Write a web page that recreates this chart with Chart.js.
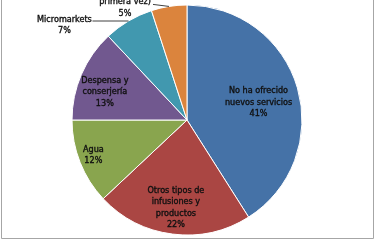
<!DOCTYPE html>
<html>
<head>
<meta charset="utf-8">
<script src="https://cdn.jsdelivr.net/npm/chart.js@4"></script>
<style>
  html, body { margin: 0; padding: 0; background: #ffffff; }
  #wrap { position: relative; width: 375px; height: 240px; }
  canvas { display: block; }
</style>
</head>
<body>
<div id="wrap"><canvas id="c" width="375" height="240"></canvas></div>
<script>
// ---- data ----
const categories = [
  "No ha ofrecido nuevos servicios",
  "Otros tipos de infusiones y productos",
  "Agua",
  "Despensa y conserjería",
  "Micromarkets",
  "primera vez)"
];
const labelLines = [
  ["No ha ofrecido", "nuevos servicios"],
  ["Otros tipos de", "infusiones y", "productos"],
  ["Agua"],
  ["Despensa y", "conserjería"],
  ["Micromarkets"],
  ["primera vez)"]
];
const values = [41, 22, 12, 13, 7, 5];
const colors = ["#4572A7", "#AA4643", "#89A54E", "#71588F", "#4198AF", "#DB843D"];

// ---- label layout (relative to each arc) ----
const labelLayout = [
  { mode: "in", r: 0.64, dAng: 2.5 },
  { mode: "in", r: 0.77, dAng: 0 },
  { mode: "in", r: 0.87, dAng: 1 },
  { mode: "in", r: 0.755, dAng: -4.5 },
  { mode: "out", lineDx: -36, lineDy: 0, textDx: -28, textDy: -1.5 },
  { mode: "out", lineDx: -16, lineDy: -2, textDx: -28, textDy: -2.5 }
];

const FONT = "9px 'Liberation Sans Narrow', 'DejaVu Sans Condensed', sans-serif";
const LINE_H = 11.5;

const labelPlugin = {
  id: "pieLabels",
  afterDatasetsDraw(chart) {
    const ctx = chart.ctx;
    const meta = chart.getDatasetMeta(0);
    const total = values.reduce((a, b) => a + b, 0);
    ctx.save();
    ctx.font = FONT;
    ctx.fillStyle = "#111111";
    ctx.textAlign = "center";
    ctx.textBaseline = "middle";
    meta.data.forEach((arc, i) => {
      const p = arc.getProps(["x", "y", "startAngle", "endAngle", "outerRadius"], true);
      const lay = labelLayout[i];
      const mid = (p.startAngle + p.endAngle) / 2 + (lay.dAng || 0) * Math.PI / 180;
      const lines = labelLines[i].concat([Math.round(values[i] / total * 100) + "%"]);
      let cx, cy;
      if (lay.mode === "in") {
        cx = p.x + Math.cos(mid) * p.outerRadius * lay.r;
        cy = p.y + Math.sin(mid) * p.outerRadius * lay.r;
      } else {
        const ax = p.x + Math.cos(mid) * p.outerRadius;
        const ay = p.y + Math.sin(mid) * p.outerRadius;
        const lx = ax + lay.lineDx, ly = ay + lay.lineDy;
        ctx.strokeStyle = "#404040";
        ctx.lineWidth = 1;
        ctx.beginPath();
        ctx.moveTo(ax, ay);
        ctx.lineTo(lx, ly);
        ctx.stroke();
        cx = lx + lay.textDx;
        cy = ly + lay.textDy + (lines.length - 1) * LINE_H / 2;
      }
      const top = cy - (lines.length - 1) * LINE_H / 2;
      ctx.strokeStyle = "#111111";
      ctx.lineWidth = 0.35;
      lines.forEach((t, k) => {
        ctx.fillText(t, cx, top + k * LINE_H);
        ctx.strokeText(t, cx, top + k * LINE_H);
      });
    });
    ctx.restore();
  }
};

const framePlugin = {
  id: "frame",
  afterDraw(chart) {
    const ctx = chart.ctx;
    ctx.save();
    ctx.strokeStyle = "#a6a6a6";
    ctx.lineWidth = 1;
    ctx.beginPath();
    ctx.moveTo(1.5, 0);
    ctx.lineTo(1.5, 238.5);
    ctx.lineTo(373.5, 238.5);
    ctx.lineTo(373.5, 0);
    ctx.stroke();
    ctx.restore();
  }
};

new Chart(document.getElementById("c"), {
  type: "pie",
  data: {
    labels: categories,
    datasets: [{
      data: values,
      backgroundColor: colors,
      borderColor: "#ffffff",
      borderWidth: 1
    }]
  },
  options: {
    responsive: false,
    animation: false,
    rotation: 0,
    layout: { padding: { top: 4.5, bottom: 4.5, left: 0, right: 1 } },
    plugins: {
      legend: { display: false },
      tooltip: { enabled: false }
    }
  },
  plugins: [labelPlugin, framePlugin]
});
</script>
</body>
</html>
